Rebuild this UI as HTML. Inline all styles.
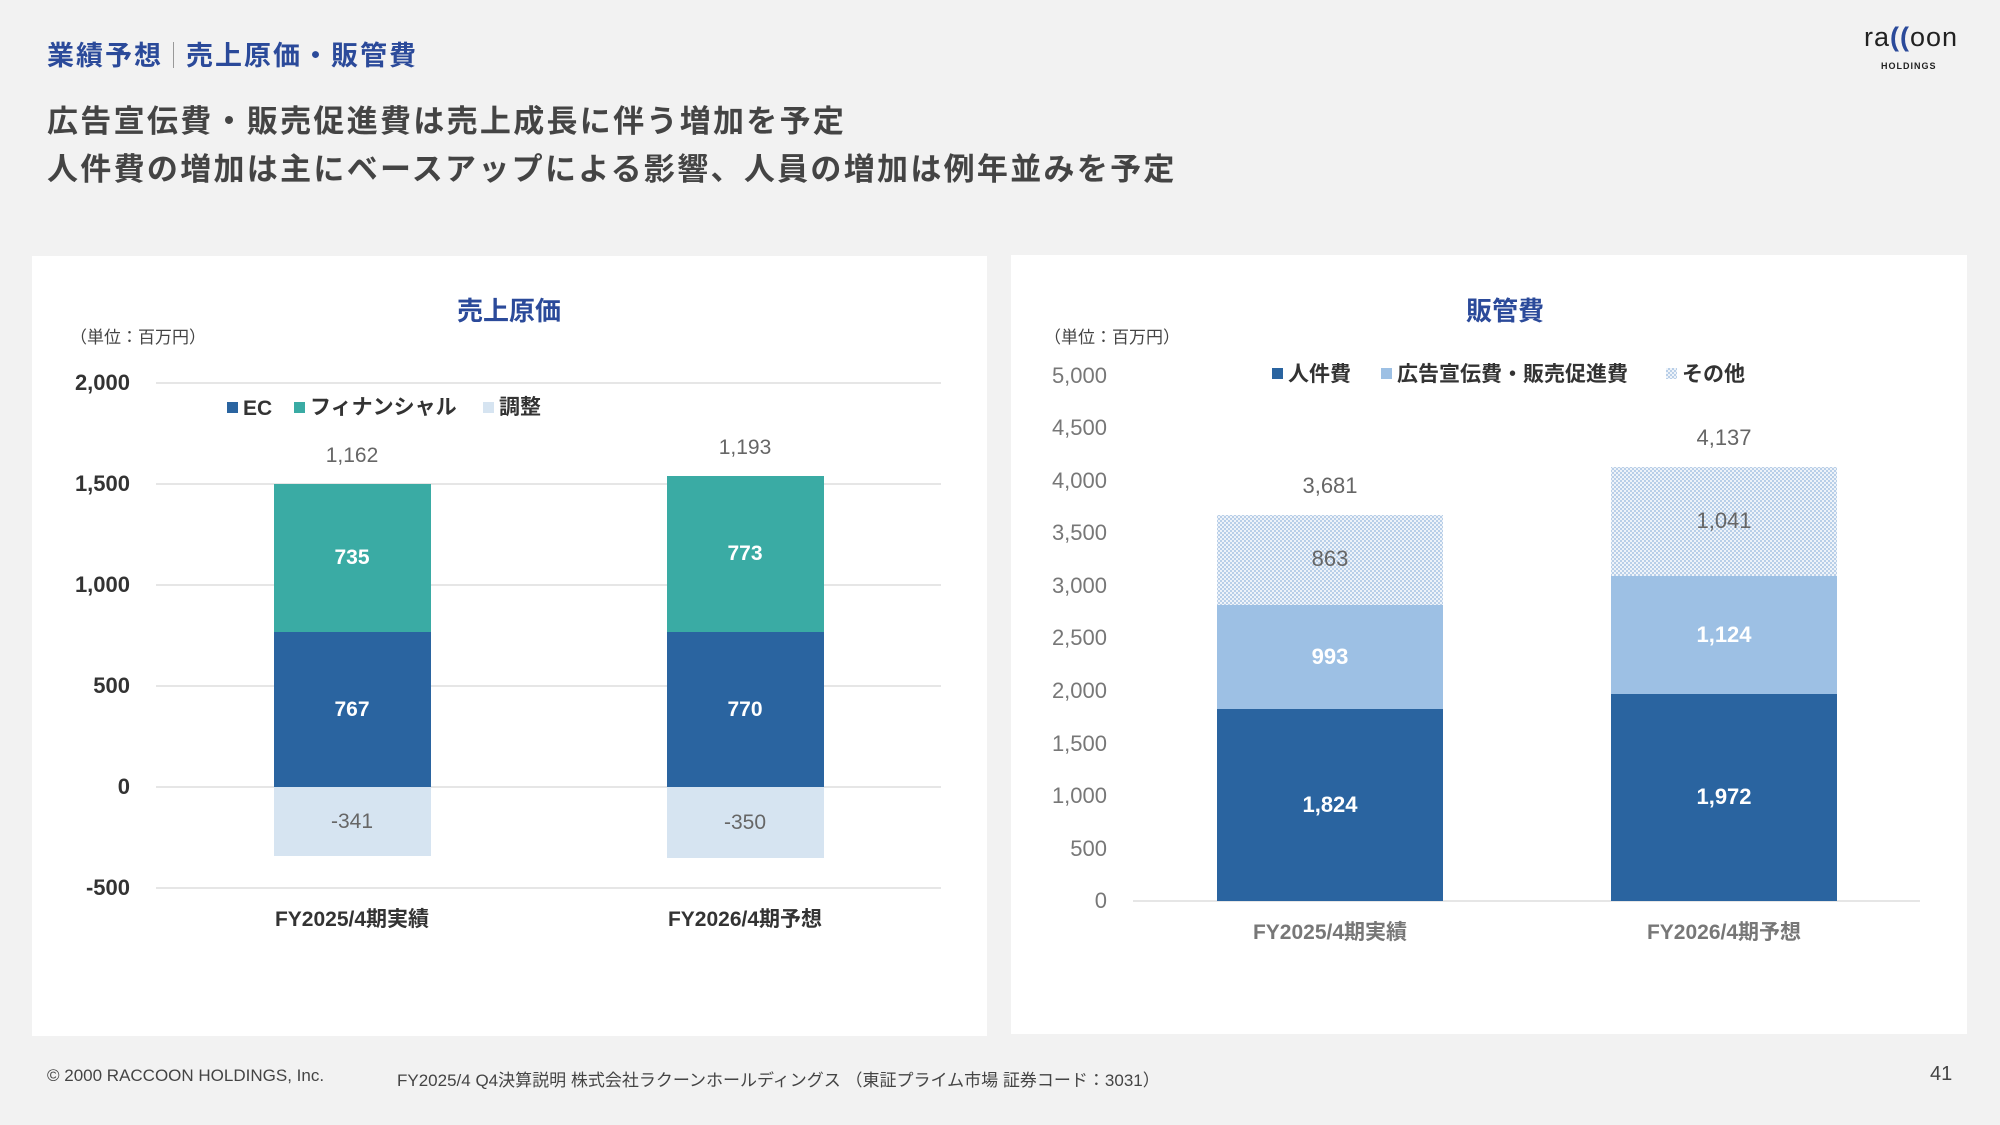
<!DOCTYPE html>
<html><head><meta charset="utf-8"><style>
html,body{margin:0;padding:0;background:#f2f2f2;}
body{width:2000px;height:1125px;overflow:hidden;position:relative;font-family:"Liberation Sans","Noto Sans CJK JP",sans-serif;}
.t{position:absolute;white-space:nowrap;}
</style></head><body>
<div class="t" style="left:47px;top:34px;font-size:27px;font-weight:bold;color:#2b4a9a;letter-spacing:2px;">業績予想<span style="display:inline-block;width:1px;height:26px;background:#999;margin:0 12px 0 10px;vertical-align:-3px;"></span>売上原価・販管費</div>
<div class="t" style="left:47px;top:98px;font-size:31px;font-weight:bold;color:#444;line-height:48px;letter-spacing:2.3px;">広告宣伝費・販売促進費は売上成長に伴う増加を予定<br>人件費の増加は主にベースアップによる影響、人員の増加は例年並みを予定</div>
<div class="t" style="left:1864px;top:22px;font-size:27px;color:#222;letter-spacing:1px;">ra<span style="color:#2b4a9a;font-weight:bold;">((</span>oon</div>
<div class="t" style="left:1881px;top:61px;font-size:9px;font-weight:bold;color:#222;letter-spacing:1px;">HOLDINGS</div>
<div class="t" style="left:47px;top:1066px;font-size:17px;color:#444;">© 2000 RACCOON HOLDINGS, Inc.</div>
<div class="t" style="left:397px;top:1066px;font-size:17px;color:#444;">FY2025/4 Q4決算説明 株式会社ラクーンホールディングス （東証プライム市場 証券コード：3031）</div>
<div class="t" style="left:1930px;top:1063px;font-size:20px;color:#444;">41</div>
<svg width="2000" height="1125" style="position:absolute;left:0;top:0" font-family="Liberation Sans, Noto Sans CJK JP, sans-serif">
<defs><pattern id="dots" width="4" height="4" patternUnits="userSpaceOnUse"><rect width="4" height="4" fill="#eef3f9"/><rect width="2" height="2" fill="#b9cfe8"/><rect x="2" y="2" width="2" height="2" fill="#b9cfe8"/></pattern></defs>
<rect x="32" y="256" width="955" height="780" fill="#fff"/>
<rect x="1011" y="255" width="956" height="779" fill="#fff"/>
<text x="509" y="320" font-size="26" font-weight="bold" fill="#2b4a9a" text-anchor="middle">売上原価</text>
<text x="70" y="343" font-size="17" fill="#444">（単位：百万円）</text>
<g stroke="#ddd" stroke-width="1.5">
<line x1="156" y1="383" x2="941" y2="383"/><line x1="156" y1="484" x2="941" y2="484"/><line x1="156" y1="585" x2="941" y2="585"/><line x1="156" y1="686" x2="941" y2="686"/><line x1="156" y1="787" x2="941" y2="787"/><line x1="156" y1="888" x2="941" y2="888"/></g>
<g font-size="22" font-weight="bold" fill="#333" text-anchor="end">
<text x="130" y="390">2,000</text><text x="130" y="491">1,500</text><text x="130" y="592">1,000</text><text x="130" y="693">500</text><text x="130" y="794">0</text><text x="130" y="895">-500</text></g>
<g font-size="21" font-weight="bold" fill="#333">
<rect x="227" y="402" width="11" height="11" fill="#2a64a0"/><text x="243" y="415">EC</text>
<rect x="294" y="402" width="11" height="11" fill="#3aaba4"/><text x="310" y="414">フィナンシャル</text>
<rect x="483" y="402" width="11" height="11" fill="#d6e4f1"/><text x="499" y="414">調整</text></g>
<rect x="274" y="632" width="157" height="155" fill="#2a64a0"/>
<rect x="274" y="484" width="157" height="148" fill="#3aaba4"/>
<rect x="274" y="787" width="157" height="69" fill="#d6e4f1"/>
<rect x="667" y="632" width="157" height="155" fill="#2a64a0"/>
<rect x="667" y="476" width="157" height="156" fill="#3aaba4"/>
<rect x="667" y="787" width="157" height="71" fill="#d6e4f1"/>
<g font-size="21" font-weight="bold" fill="#fff" text-anchor="middle">
<text x="352" y="716">767</text><text x="352" y="564">735</text><text x="745" y="716">770</text><text x="745" y="560">773</text></g>
<g font-size="21" fill="#666" text-anchor="middle">
<text x="352" y="828">-341</text><text x="745" y="829">-350</text><text x="352" y="462">1,162</text><text x="745" y="454">1,193</text></g>
<g font-size="21" font-weight="bold" fill="#333" text-anchor="middle"><text x="352" y="926">FY2025/4期実績</text><text x="745" y="926">FY2026/4期予想</text></g>
<text x="1505" y="320" font-size="26" font-weight="bold" fill="#2b4a9a" text-anchor="middle">販管費</text>
<text x="1044" y="343" font-size="17" fill="#444">（単位：百万円）</text>
<line x1="1133" y1="901" x2="1920" y2="901" stroke="#ddd" stroke-width="1.5"/>
<g font-size="22" fill="#777" text-anchor="end">
<text x="1107" y="383">5,000</text><text x="1107" y="435">4,500</text><text x="1107" y="488">4,000</text><text x="1107" y="540">3,500</text><text x="1107" y="593">3,000</text><text x="1107" y="645">2,500</text><text x="1107" y="698">2,000</text><text x="1107" y="751">1,500</text><text x="1107" y="803">1,000</text><text x="1107" y="856">500</text><text x="1107" y="908">0</text></g>
<g font-size="21" font-weight="bold" fill="#333">
<rect x="1272" y="368" width="11" height="11" fill="#2a64a0"/><text x="1288" y="381">人件費</text>
<rect x="1381" y="368" width="11" height="11" fill="#9dc0e4"/><text x="1397" y="381">広告宣伝費・販売促進費</text>
<rect x="1666" y="368" width="11" height="11" fill="url(#dots)"/><text x="1682" y="381">その他</text></g>
<rect x="1217" y="709" width="226" height="192" fill="#2a64a0"/>
<rect x="1217" y="605" width="226" height="104" fill="#9dc0e4"/>
<rect x="1217" y="515" width="226" height="90" fill="url(#dots)"/>
<rect x="1611" y="694" width="226" height="207" fill="#2a64a0"/>
<rect x="1611" y="576" width="226" height="118" fill="#9dc0e4"/>
<rect x="1611" y="467" width="226" height="109" fill="url(#dots)"/>
<g font-size="22" font-weight="bold" fill="#fff" text-anchor="middle">
<text x="1330" y="812">1,824</text><text x="1330" y="664">993</text><text x="1724" y="804">1,972</text><text x="1724" y="642">1,124</text></g>
<g font-size="22" fill="#666" text-anchor="middle">
<text x="1330" y="566">863</text><text x="1724" y="528">1,041</text><text x="1330" y="493">3,681</text><text x="1724" y="445">4,137</text></g>
<g font-size="21" font-weight="bold" fill="#777" text-anchor="middle"><text x="1330" y="939">FY2025/4期実績</text><text x="1724" y="939">FY2026/4期予想</text></g>
</svg>
</body></html>
